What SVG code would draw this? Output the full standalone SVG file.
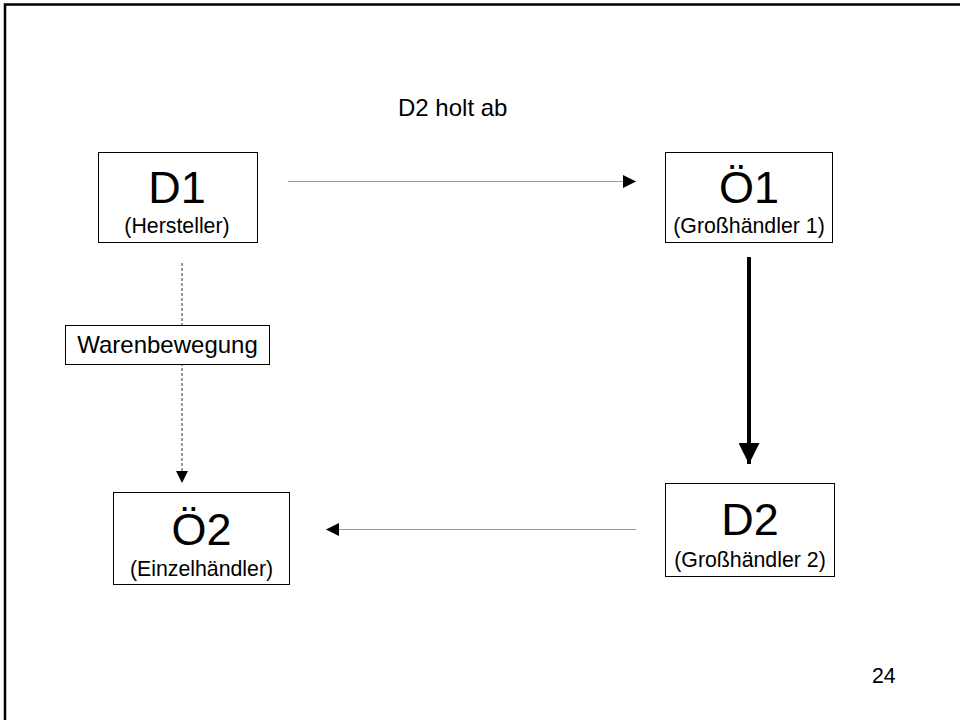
<svg xmlns="http://www.w3.org/2000/svg" width="960" height="720" viewBox="0 0 960 720">
  <style>
    text { font-family: "Liberation Sans", Arial, sans-serif; fill: #000; }
    .box { fill: #fff; stroke: #000; stroke-width: 1; }
    .big { font-size: 45px; text-anchor: middle; }
    .sub { font-size: 21.3px; text-anchor: middle; }
    .lbl { font-size: 24px; }
    .thin { stroke: #999; stroke-width: 1; fill: none; }
  </style>
  <defs>
    <marker id="tri" viewBox="0 0 10 10" refX="10" refY="5" markerUnits="userSpaceOnUse" markerWidth="13" markerHeight="13" orient="auto">
      <path d="M0,0 L10,5 L0,10 z" fill="#000"/>
    </marker>
    <marker id="triSmall" viewBox="0 0 10 10" refX="10" refY="5" markerUnits="userSpaceOnUse" markerWidth="12" markerHeight="12" orient="auto">
      <path d="M0,0 L10,5 L0,10 z" fill="#000"/>
    </marker>
    <marker id="triBig" viewBox="0 0 10 10" refX="10" refY="5" markerUnits="userSpaceOnUse" markerWidth="21" markerHeight="21" orient="auto">
      <path d="M0,0 L10,5 L0,10 z" fill="#000"/>
    </marker>
  </defs>

  <rect width="960" height="720" fill="#fff"/>
  <!-- slide frame: top and left edges -->
  <path d="M5,720 V4.5 H960" fill="none" stroke="#000" stroke-width="2.5"/>

  <g id="connectors">
    <line class="thin" x1="288" y1="181.5" x2="636" y2="181.5" marker-end="url(#tri)"/>
    <line class="thin" x1="636" y1="529.5" x2="326" y2="529.5" marker-end="url(#tri)"/>
    <line x1="749" y1="257" x2="749" y2="464" stroke="#000" stroke-width="4" marker-end="url(#triBig)"/>
    <line x1="182" y1="263" x2="182" y2="483" stroke="#555" stroke-width="1.2" stroke-dasharray="3,2" marker-end="url(#triSmall)"/>
  </g>

  <text class="lbl" x="398" y="116">D2 holt ab</text>

  <g id="node-d1">
    <rect class="box" x="98.5" y="152.5" width="159" height="90"/>
    <text class="big" x="177" y="203">D1</text>
    <text class="sub" x="177" y="233">(Hersteller)</text>
  </g>

  <g id="node-oe1">
    <rect class="box" x="665.5" y="152.5" width="167" height="90"/>
    <text class="big" x="749" y="203">Ö1</text>
    <text class="sub" x="749" y="233">(Großhändler 1)</text>
  </g>

  <g id="node-warenbewegung">
    <rect class="box" x="65.5" y="325.5" width="204" height="39"/>
    <text class="lbl" x="167.5" y="353" text-anchor="middle">Warenbewegung</text>
  </g>

  <g id="node-oe2">
    <rect class="box" x="113.5" y="492.5" width="176" height="92"/>
    <text class="big" x="201.5" y="545">Ö2</text>
    <text class="sub" x="201.5" y="576">(Einzelhändler)</text>
  </g>

  <g id="node-d2">
    <rect class="box" x="665.5" y="483.5" width="169" height="93"/>
    <text class="big" x="750" y="535">D2</text>
    <text class="sub" x="750" y="567">(Großhändler 2)</text>
  </g>

  <text x="872" y="683" style="font-size:21.3px">24</text>
</svg>
